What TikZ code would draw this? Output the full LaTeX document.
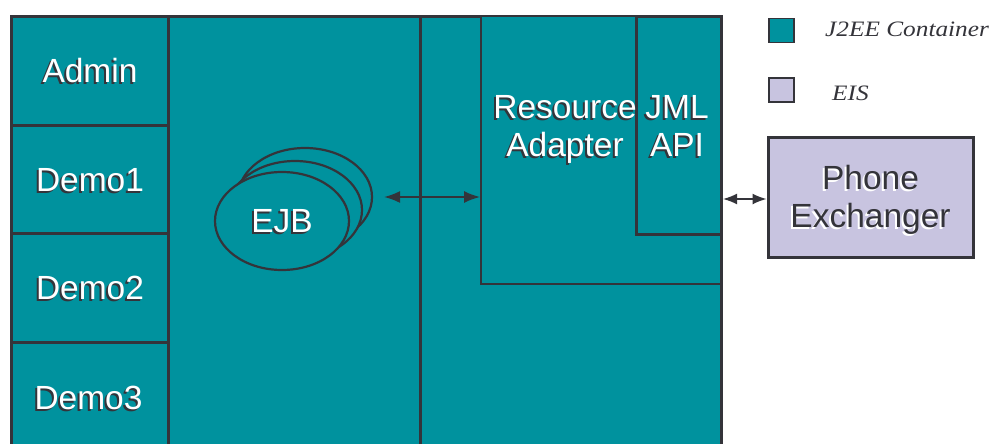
\documentclass[tikz,border=0pt]{standalone}
\usepackage{fontspec}
\setmainfont{Liberation Sans}
\newfontfamily\legfont[FakeStretch=1.15]{Liberation Serif}
\usetikzlibrary{arrows.meta,shapes.geometric}
\definecolor{tealc}{RGB}{0,146,158}
\definecolor{lavc}{RGB}{200,196,224}
\definecolor{edgec}{RGB}{52,52,58}
\newcommand\shd[2][edgec]{\raisebox{-5pt}[\height][\depth]{\makebox[0pt][l]{\kern-2pt\raisebox{-2pt}{\textcolor{#1}{\begin{tabular}{@{}c@{}}#2\end{tabular}}}}\begin{tabular}{@{}c@{}}#2\end{tabular}}}
\tikzset{
  cell/.style={draw=edgec, fill=tealc, line width=3pt, rectangle, inner sep=0pt, anchor=north west,
    font=\fontsize{33.5}{38}\selectfont, text=white},
  inbox/.style={draw=edgec, fill=tealc, line width=2pt, rectangle, inner sep=0pt, anchor=north west},
  lbl/.style={inner sep=0pt, font=\fontsize{33.5}{38}\selectfont, text=white},
  ell/.style={draw=edgec, fill=tealc, line width=2.2pt, ellipse, inner sep=0pt},
  tipb/.tip={Latex[length=16pt,width=12pt]},
  tips/.tip={Latex[length=14pt,width=11pt]},
  arr/.style={draw=edgec, line width=1.6pt, tipb-tipb},
  arrs/.style={draw=edgec, line width=1.6pt, tips-tips},
  legbox/.style={draw=edgec, line width=1.5pt, rectangle, minimum width=25pt, minimum height=24pt, inner sep=0pt, anchor=north west},
  legtxt/.style={inner sep=0pt, anchor=west, font=\legfont\itshape\fontsize{22}{24}\selectfont, text=edgec},
}
\begin{document}
\begin{tikzpicture}[x=1pt,y=-1pt]
\useasboundingbox (0,0) rectangle (1006,444);
\clip (0,0) rectangle (1006,444);
\fill[white] (0,0) rectangle (1006,444);
% outer frame
\node[cell, minimum width=710pt, minimum height=450pt] (frame) at (10,15) {};
% EJB column and right column
\node[cell, minimum width=252pt, minimum height=450pt] (ejbcol) at (167,15) {};
\node[cell, minimum width=301pt, minimum height=450pt] (racol) at (419,15) {};
% left column cells
\node[cell, minimum width=157pt, minimum height=109pt] (admin) at (10,15) {\shd{Admin}};
\node[cell, minimum width=157pt, minimum height=108pt] (demo1) at (10,124) {\shd{Demo1}};
\node[cell, minimum width=157pt, minimum height=109pt] (demo2) at (10,232) {\shd{Demo2}};
\node[cell, minimum width=157pt, minimum height=109pt] (demo3) at (10,341) {};
\node[lbl] (demo3t) at (88.5,398) {\shd{Demo3}};
% resource adapter and JML API
\node[inbox, minimum width=240pt, minimum height=268pt] (ra) at (480,15) {};
\node[inbox, line width=3pt, minimum width=85pt, minimum height=218pt] (jml) at (635,15) {};
\node[lbl] (ratext) at (565,126) {\shd{Resource\\Adapter}};
\node[lbl] (jmltext) at (677,126) {\shd{JML\\API}};
% EJB ellipses
\node[ell, minimum width=134pt, minimum height=98pt] (ejb3) at (305,197) {};
\node[ell, minimum width=134pt, minimum height=98pt] (ejb2) at (295,210) {};
\node[ell, minimum width=134pt, minimum height=98pt, font=\fontsize{33.5}{38}\selectfont, text=white] (ejb1) at (282,221) {\shd{EJB}};
% phone exchanger
\node[rectangle, draw=edgec, fill=lavc, line width=3pt, minimum width=205pt, minimum height=120pt, inner sep=0pt,
  font=\fontsize{33.5}{38}\selectfont, text=edgec] (phone) at (870.5,197) {\shd[white]{Phone\\Exchanger}};
% connectors
\draw[arr] ([xshift=11pt]ejb3.east) -- (ra.west |- ejb3.east);
\draw[arrs] (frame.east |- 0,199) coordinate (pa) -- (phone.west |- pa);
% legend
\node[legbox, fill=tealc] (legc) at (768,18) {};
\node[legtxt] (legct) at (825,29) {J2EE Container};
\node[legbox, fill=lavc] (lege) at (768,77) {};
\node[legtxt] (leget) at (832,93) {EIS};
\end{tikzpicture}
\end{document}
